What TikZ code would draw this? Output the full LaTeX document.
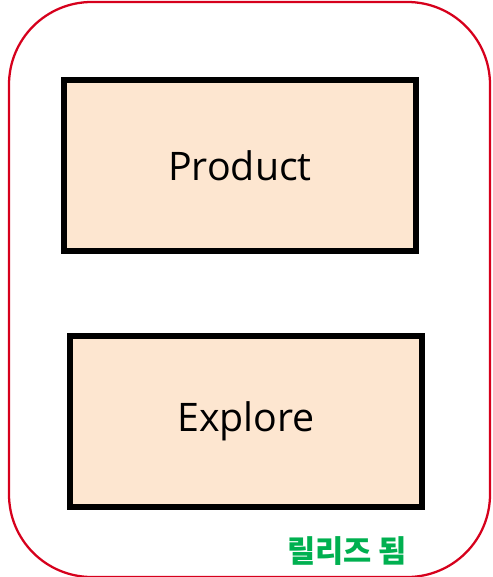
\documentclass[tikz,border=0pt]{standalone}
\usepackage{fontspec}
\setmainfont{Open Sans}
\newfontfamily\kor{Noto Sans CJK KR}
\definecolor{boxfill}{RGB}{253,230,208}
\definecolor{outerred}{RGB}{214,0,28}
\definecolor{relgreen}{RGB}{0,176,80}
\begin{document}
\begin{tikzpicture}[x=0.75pt,y=-0.75pt,
  itembox/.style={draw=black,line width=3.8pt,fill=boxfill,inner sep=0pt,font=\fontsize{29.5}{34}\selectfont},
  outerbox/.style={draw=outerred,line width=1.7pt,rounded corners=62pt},
  tag/.style={text=relgreen,font=\kor\bfseries\fontsize{23}{26}\selectfont,inner sep=0pt}]
\useasboundingbox (0,0) rectangle (492,577);
\begin{scope}
\clip (0,0) rectangle (492,577);
\draw[outerbox] (9,2) rectangle (490,577);
\end{scope}
\node[itembox,minimum width=352*0.75pt,minimum height=171*0.75pt] (product) at (240,165.5) {Product};
\node[itembox,minimum width=352*0.75pt,minimum height=171*0.75pt] (explore) at (246,421.5) {Explore};
\node[tag] (rel) at (347,551) {릴리즈 됨};
\end{tikzpicture}
\end{document}
